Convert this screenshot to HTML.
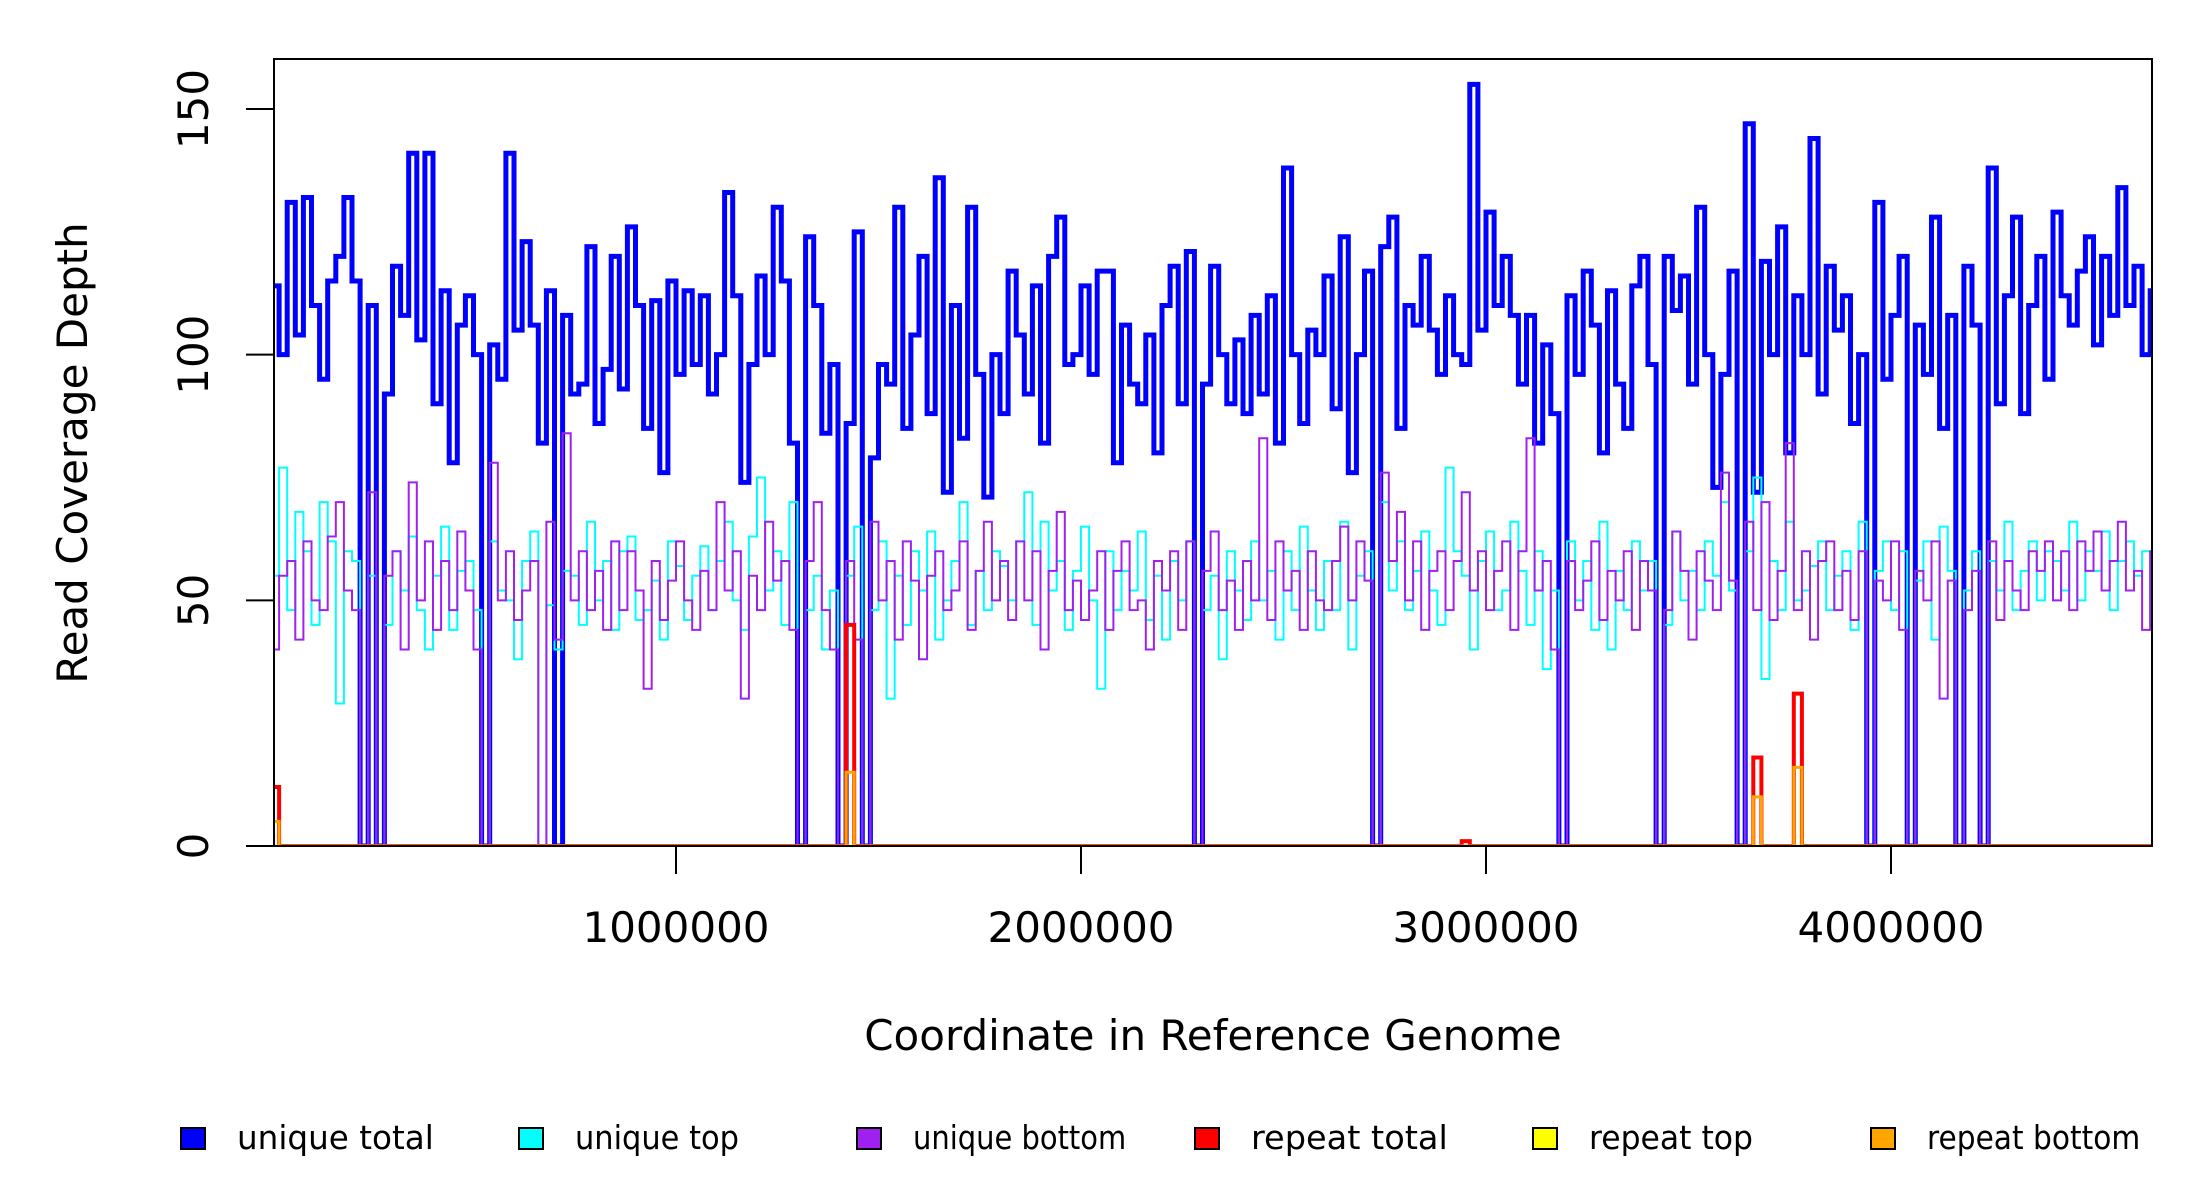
<!DOCTYPE html>
<html><head><meta charset="utf-8"><style>html,body{margin:0;padding:0;background:#fff}svg{display:block}</style></head>
<body>
<svg id="chart" width="2200" height="1200" viewBox="0 0 2200 1200" xmlns="http://www.w3.org/2000/svg" font-family="'DejaVu Sans','Liberation Sans',sans-serif">
<defs><clipPath id="pc"><rect x="274" y="59" width="1878" height="787"/></clipPath></defs>
<g id="series" clip-path="url(#pc)"></g>
<rect x="274" y="59" width="1878" height="787" fill="none" stroke="#000" stroke-width="2"/>
<g id="axes"></g>
<text x="87" y="453" font-size="42" text-anchor="middle" transform="rotate(-90 87 453)">Read Coverage Depth</text>
<text x="1213" y="1050" font-size="42" text-anchor="middle">Coordinate in Reference Genome</text>
<g id="legend"></g>
</svg>
<script>
const binSize = 20000;
const xTicks = [1000000, 2000000, 3000000, 4000000];
const xTickLabels = ["1000000", "2000000", "3000000", "4000000"];
const yTicks = [0, 50, 100, 150];
const yTickLabels = ["0", "50", "100", "150"];
const uniqueTotal = [114,100,131,104,132,110,95,115,120,132,
115,0,110,0,92,118,108,141,103,141,
90,113,78,106,112,100,0,102,95,141,
105,123,106,82,113,0,108,92,94,122,
86,97,120,93,126,110,85,111,76,115,
96,113,98,112,92,100,133,112,74,98,
116,100,130,115,82,0,124,110,84,98,
0,86,125,0,79,98,94,130,85,104,
120,88,136,72,110,83,130,96,71,100,
88,117,104,92,114,82,120,128,98,100,
114,96,117,117,78,106,94,90,104,80,
110,118,90,121,0,94,118,100,90,103,
88,108,92,112,82,138,100,86,105,100,
116,89,124,76,100,117,0,122,128,85,
110,106,120,105,96,112,100,98,155,105,
129,110,120,108,94,108,82,102,88,0,
112,96,117,106,80,113,94,85,114,120,
98,0,120,109,116,94,130,100,73,96,
117,0,147,72,119,100,126,80,112,100,
144,92,118,105,112,86,100,0,131,95,
108,120,0,106,96,128,85,108,0,118,
106,0,138,90,112,128,88,110,120,95,
129,112,106,117,124,102,120,108,134,110,
118,100,113];
const uniqueTop = [55,77,48,68,60,45,70,62,29,60,
58,0,55,0,45,60,52,63,48,40,
55,65,44,56,58,48,0,62,52,50,
38,58,64,0,49,40,56,55,45,66,
50,58,44,60,63,46,48,54,42,62,
57,46,55,61,48,58,66,50,44,63,
75,52,60,45,70,0,48,55,40,52,
0,55,65,0,48,62,30,55,45,60,
52,64,42,50,58,70,45,56,48,60,
57,50,62,72,45,66,52,58,44,56,
65,50,32,60,48,56,52,64,46,55,
42,58,50,62,0,48,55,38,60,52,
46,62,50,56,42,60,48,65,52,44,
58,48,66,40,55,60,0,70,52,62,
48,56,64,52,45,77,60,55,40,58,
64,48,52,66,56,45,60,36,52,0,
62,50,58,44,66,40,56,48,62,52,
58,0,45,64,50,56,48,62,55,70,
52,0,60,75,34,58,48,66,50,52,
57,62,48,55,60,44,66,0,56,62,
48,60,0,54,62,42,65,56,0,52,
60,0,58,52,66,48,56,62,50,60,
58,52,66,50,60,56,64,48,58,62,
55,60,44];
const uniqueBottom = [40,55,58,42,62,50,48,63,70,52,
48,0,72,0,55,60,40,74,50,62,
44,58,48,64,52,40,0,78,50,60,
46,52,58,0,66,42,84,50,60,48,
56,44,62,48,60,52,32,58,46,54,
62,50,44,56,48,70,52,60,30,55,
48,66,54,58,44,0,58,70,48,40,
0,58,42,0,66,50,58,42,62,54,
38,55,60,48,52,62,44,56,66,50,
58,46,62,50,60,40,56,68,48,54,
46,52,60,44,56,62,48,50,40,58,
52,60,44,62,0,56,64,48,54,44,
58,50,83,46,62,52,56,44,60,50,
48,58,65,50,62,54,0,76,58,68,
50,62,44,56,60,48,58,72,52,60,
48,56,62,44,60,83,52,58,40,0,
58,48,54,62,46,56,50,60,44,58,
52,0,48,64,56,42,60,54,48,76,
54,0,66,48,70,46,56,82,48,60,
42,58,62,48,56,46,60,0,54,50,
62,44,0,56,50,62,30,54,0,48,
56,0,62,46,58,52,48,60,56,62,
50,60,48,62,56,64,52,58,66,52,
56,44,60];
const repeatBins = [0, 71, 147, 183, 188];
const repeatTotal = [12, 45, 1, 18, 31];
const repeatTop = [0, 0, 0, 0, 0];
const repeatBottom = [5, 15, 0, 10, 16];

const NS = "http://www.w3.org/2000/svg";
function xs(g){ return 271 + g / 1e6 * 405; }
function ys(v){ return 846 - v * (737 / 150); }
function mk(tag, attrs, parent){ const e = document.createElementNS(NS, tag); for (const k in attrs) e.setAttribute(k, attrs[k]); parent.appendChild(e); return e; }
function expand(bins, vals){ const n = uniqueTotal.length; const out = new Array(n).fill(0); bins.forEach((b, i) => { out[b] = vals[i]; }); return out; }
function stepPath(vals){
  let d = "M" + xs(0) + "," + ys(vals[0]);
  for (let i = 0; i < vals.length; i++) {
    d += " L" + xs((i + 1) * binSize) + "," + ys(vals[i]);
    if (i + 1 < vals.length) d += " L" + xs((i + 1) * binSize) + "," + ys(vals[i + 1]);
  }
  return d;
}
const sg = document.getElementById("series");
const seriesDefs = [
  ["unique-total-line", uniqueTotal, "#0000ff", 5],
  ["unique-top-line", uniqueTop, "#00ffff", 2],
  ["unique-bottom-line", uniqueBottom, "#a020f0", 2],
  ["repeat-total-line", expand(repeatBins, repeatTotal), "#ff0000", 4],
  ["repeat-top-line", expand(repeatBins, repeatTop), "#ffff00", 3],
  ["repeat-bottom-line", expand(repeatBins, repeatBottom), "#ffa500", 3]
];
seriesDefs.forEach(s => {
  const p = mk("path", {d: stepPath(s[1]), fill: "none", stroke: s[2], "stroke-width": s[3], "stroke-linejoin": "miter"}, sg);
  
  
});
const ax = document.getElementById("axes");
xTicks.forEach((t, i) => {
  const l = mk("line", {x1: xs(t), x2: xs(t), y1: 846, y2: 874, stroke: "#000", "stroke-width": 2}, ax);
  
  
  const tx = mk("text", {x: xs(t), y: 942, "font-size": 42, "text-anchor": "middle"}, ax);
  tx.textContent = xTickLabels[i];
  
  
});
yTicks.forEach((t, i) => {
  const l = mk("line", {x1: 246, x2: 274, y1: ys(t), y2: ys(t), stroke: "#000", "stroke-width": 2}, ax);
  
  
  const tx = mk("text", {x: 208, y: ys(t), "font-size": 42, "text-anchor": "middle", transform: "rotate(-90 208 " + ys(t) + ")"}, ax);
  tx.textContent = yTickLabels[i];
  
  
});
const legendNames = ["unique total", "unique top", "unique bottom", "repeat total", "repeat top", "repeat bottom"];
const legendColors = ["#0000ff", "#00ffff", "#a020f0", "#ff0000", "#ffff00", "#ffa500"];
const lg = document.getElementById("legend");
legendNames.forEach((n, i) => {
  const x0 = 181 + i * 338;
  const g = mk("g", {}, lg);
  
  
  const r = mk("rect", {x: x0, y: 1128, width: 24, height: 21, fill: legendColors[i], stroke: "#000", "stroke-width": 2}, g);
  
  
  const t = mk("text", {x: x0 + 56, y: 1149, "font-size": 33, textLength: n.length * 16.4, lengthAdjust: "spacingAndGlyphs"}, g);
  t.textContent = n;
  
  
});
</script>
</body></html>
